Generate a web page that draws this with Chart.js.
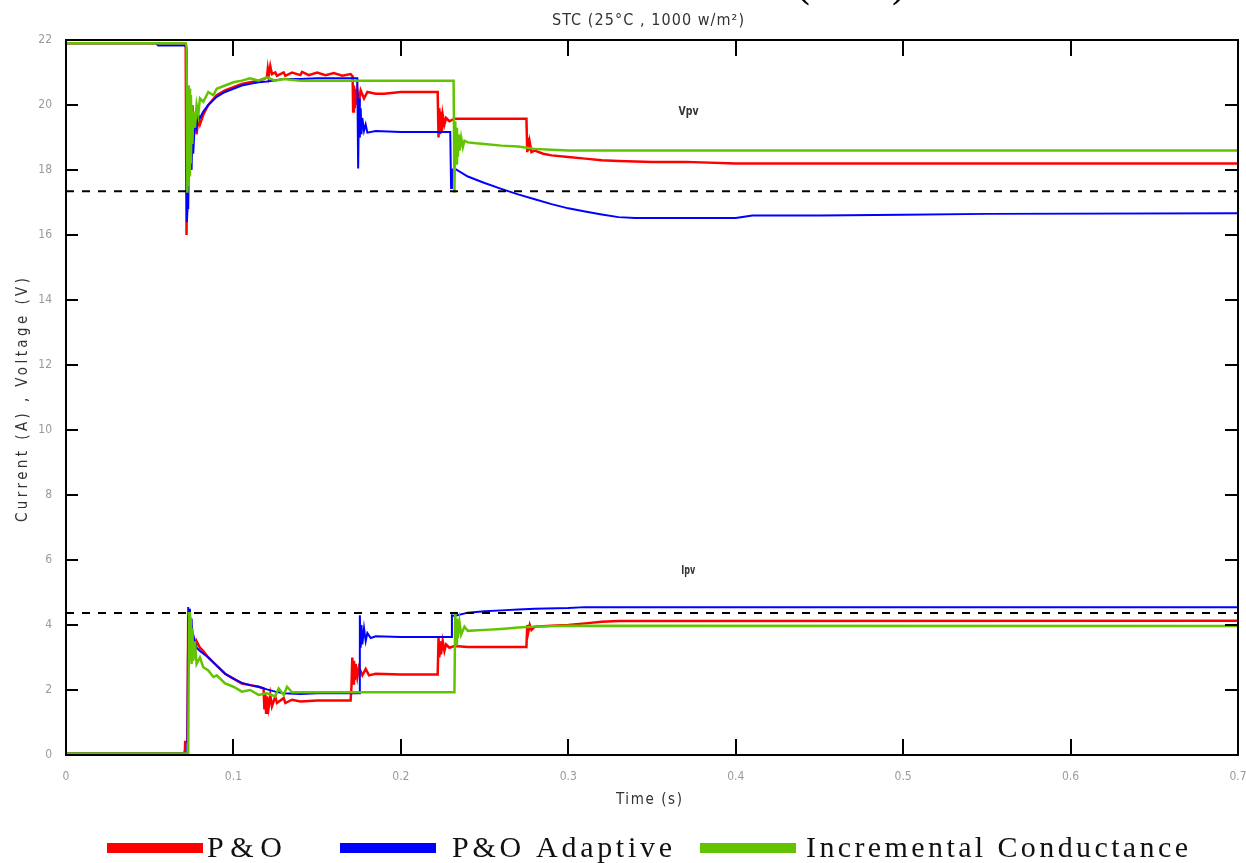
<!DOCTYPE html>
<html>
<head>
<meta charset="utf-8">
<script src="https://cdn.jsdelivr.net/npm/chart.js@4.4.1/dist/chart.umd.min.js"></script>
<style>
html, body { margin: 0; padding: 0; background: #fff; }
</style>
</head>
<body>
<canvas id="pvChart" width="1246" height="863"></canvas>
<script>
// PV current / voltage under STC for three MPPT methods
// each series is a list of [time (s), value]

var methodNames = ["P&O", "P&O Adaptive", "Incremental Conductance"];
var methodColors = ["#ff0000", "#0000ff", "#62c400"];

var xTicks = [0, 0.1, 0.2, 0.3, 0.4, 0.5, 0.6, 0.7];
var yTicks = [0, 2, 4, 6, 8, 10, 12, 14, 16, 18, 20, 22];

// reference levels (dashed)
var vpvRef = [[0, 17.35], [0.7, 17.35]];
var ipvRef = [[0, 4.37], [0.7, 4.37]];

// voltage, P&O
var vpvPO = [[0,21.9],[0.071,21.9],[0.0715,21.75],[0.072,16.0],[0.0725,20.6],[0.073,17.9],[0.0735,20.5],
  [0.074,18.0],[0.0745,20.3],[0.075,18.6],[0.0755,20.0],[0.076,19.0],[0.077,19.7],[0.078,19.1],[0.079,19.6],
  [0.08,19.4],[0.082,19.7],[0.085,20.0],[0.09,20.3],[0.095,20.45],[0.1,20.55],[0.105,20.65],[0.11,20.7],
  [0.115,20.75],[0.118,20.8],[0.12,20.85],[0.1205,21.1],[0.121,20.9],[0.122,21.2],[0.123,20.95],[0.125,21.0],
  [0.126,20.9],[0.13,21.0],[0.131,20.9],[0.135,21.0],[0.14,20.92],[0.141,21.02],[0.145,20.92],[0.15,21.0],
  [0.155,20.92],[0.16,20.98],[0.165,20.9],[0.17,20.95],[0.1712,20.88],[0.1715,19.8],[0.172,20.6],[0.1725,19.9],
  [0.173,20.5],[0.1735,20.0],[0.174,20.45],[0.175,20.1],[0.176,20.45],[0.178,20.2],[0.18,20.4],[0.185,20.35],
  [0.19,20.35],[0.2,20.4],[0.21,20.4],[0.222,20.4],[0.2225,19.0],[0.223,19.9],[0.2235,19.1],[0.224,19.8],
  [0.2245,19.2],[0.225,19.7],[0.226,19.4],[0.227,19.6],[0.229,19.5],[0.232,19.58],[0.24,19.58],[0.25,19.58],
  [0.26,19.58],[0.275,19.58],[0.2755,18.55],[0.276,19.0],[0.2765,18.6],[0.277,18.85],[0.278,18.55],
  [0.28,18.6],[0.285,18.5],[0.29,18.45],[0.3,18.4],[0.31,18.35],[0.32,18.3],[0.33,18.28],[0.35,18.25],
  [0.37,18.25],[0.4,18.2],[0.5,18.2],[0.6,18.2],[0.7,18.2]];

// voltage, P&O adaptive
var vpvPOA = [[0,21.9],[0.054,21.9],[0.055,21.83],[0.0715,21.83],[0.072,21.7],[0.0722,16.4],[0.0728,17.0],
  [0.073,16.8],[0.0735,18.5],[0.074,18.1],[0.0745,18.7],[0.075,18.0],[0.0755,19.0],[0.076,18.5],[0.077,19.5],
  [0.078,19.3],[0.079,19.7],[0.08,19.6],[0.082,19.8],[0.085,20.0],[0.09,20.25],[0.095,20.4],[0.1,20.5],
  [0.105,20.6],[0.11,20.65],[0.115,20.7],[0.12,20.72],[0.13,20.8],[0.14,20.8],[0.15,20.82],[0.16,20.82],
  [0.174,20.82],[0.1745,18.05],[0.175,20.2],[0.1755,19.0],[0.176,19.9],[0.1765,19.1],[0.177,19.6],
  [0.178,19.2],[0.179,19.4],[0.18,19.15],[0.185,19.2],[0.2,19.17],[0.22,19.17],[0.2295,19.17],[0.23,17.45],
  [0.2305,18.0],[0.232,18.05],[0.24,17.8],[0.25,17.6],[0.26,17.42],[0.27,17.25],[0.28,17.1],[0.29,16.95],
  [0.3,16.82],[0.31,16.72],[0.32,16.63],[0.33,16.55],[0.34,16.52],[0.4,16.52],[0.41,16.6],[0.45,16.6],
  [0.5,16.62],[0.55,16.65],[0.7,16.67]];

// voltage, incremental conductance
var vpvIC = [[0,21.9],[0.0715,21.9],[0.072,21.8],[0.0725,17.3],[0.073,20.6],[0.0733,17.5],[0.0736,20.5],
  [0.074,17.8],[0.0743,20.3],[0.0746,18.2],[0.075,20.0],[0.0755,18.8],[0.076,19.8],[0.077,19.3],[0.078,20.0],
  [0.079,19.7],[0.08,20.2],[0.082,20.1],[0.085,20.4],[0.088,20.3],[0.09,20.5],[0.095,20.6],[0.1,20.7],
  [0.105,20.75],[0.11,20.82],[0.115,20.75],[0.12,20.85],[0.125,20.75],[0.13,20.8],[0.14,20.75],[0.15,20.75],
  [0.2,20.75],[0.2315,20.75],[0.232,17.3],[0.2325,19.5],[0.233,18.2],[0.2335,19.3],[0.234,18.4],[0.2345,19.1],
  [0.235,18.6],[0.236,19.0],[0.237,18.7],[0.238,18.9],[0.24,18.85],[0.245,18.82],[0.25,18.8],[0.26,18.75],
  [0.27,18.72],[0.28,18.65],[0.29,18.62],[0.3,18.6],[0.7,18.6]];

// current, P&O
var ipvPO = [[0,0.05],[0.07,0.05],[0.071,0.1],[0.0712,0.4],[0.0725,0.4],[0.073,4.3],[0.0735,3.3],[0.074,4.0],
  [0.0745,3.0],[0.075,3.7],[0.0755,2.9],[0.076,3.6],[0.077,3.2],[0.078,3.5],[0.08,3.3],[0.082,3.2],[0.085,3.0],
  [0.09,2.75],[0.095,2.5],[0.1,2.35],[0.105,2.2],[0.11,2.15],[0.115,2.1],[0.118,2.05],[0.1185,1.4],[0.119,1.9],
  [0.1195,1.3],[0.12,1.8],[0.121,1.45],[0.122,1.85],[0.123,1.5],[0.125,1.8],[0.126,1.6],[0.13,1.75],
  [0.131,1.6],[0.135,1.7],[0.14,1.65],[0.15,1.68],[0.17,1.68],[0.1705,2.1],[0.171,3.0],[0.1715,2.2],
  [0.172,2.9],[0.1725,2.3],[0.173,2.8],[0.174,2.4],[0.175,2.7],[0.177,2.45],[0.179,2.65],[0.181,2.45],
  [0.185,2.5],[0.2,2.48],[0.222,2.48],[0.2225,3.6],[0.223,3.0],[0.2235,3.5],[0.224,3.1],[0.225,3.5],
  [0.226,3.2],[0.227,3.4],[0.229,3.3],[0.232,3.35],[0.24,3.32],[0.26,3.32],[0.275,3.32],[0.2755,4.0],
  [0.276,3.75],[0.277,4.0],[0.278,3.85],[0.28,3.95],[0.29,3.98],[0.3,4.0],[0.31,4.05],[0.32,4.1],
  [0.33,4.12],[0.7,4.13]];

// current, P&O adaptive
var ipvPOA = [[0,0.05],[0.0725,0.05],[0.073,4.55],[0.0735,4.2],[0.074,4.5],[0.0745,3.8],[0.075,4.2],
  [0.0755,3.5],[0.076,3.7],[0.078,3.3],[0.08,3.2],[0.085,3.0],[0.09,2.75],[0.095,2.5],[0.1,2.35],[0.105,2.22],
  [0.11,2.15],[0.115,2.1],[0.12,2.02],[0.125,1.95],[0.13,1.9],[0.14,1.88],[0.15,1.9],[0.175,1.9],[0.1755,4.3],
  [0.176,3.3],[0.1765,4.0],[0.177,3.4],[0.178,3.9],[0.179,3.5],[0.18,3.75],[0.182,3.6],[0.185,3.65],
  [0.2,3.63],[0.23,3.63],[0.2305,4.3],[0.232,4.28],[0.24,4.38],[0.25,4.42],[0.26,4.45],[0.27,4.48],
  [0.28,4.5],[0.3,4.52],[0.31,4.55],[0.7,4.55]];

// current, incremental conductance
var ipvIC = [[0,0.05],[0.073,0.05],[0.0735,4.4],[0.074,2.9],[0.0745,4.2],[0.075,2.8],[0.0755,3.9],
  [0.076,2.9],[0.077,3.5],[0.078,2.8],[0.08,3.0],[0.082,2.7],[0.085,2.6],[0.088,2.4],[0.09,2.45],[0.095,2.2],
  [0.1,2.1],[0.105,1.95],[0.11,2.0],[0.115,1.85],[0.12,1.9],[0.125,1.8],[0.127,2.05],[0.13,1.85],[0.132,2.1],
  [0.135,1.93],[0.15,1.93],[0.2,1.93],[0.232,1.93],[0.2325,4.4],[0.233,3.4],[0.2335,4.2],[0.234,3.6],
  [0.235,4.1],[0.236,3.7],[0.238,3.95],[0.24,3.82],[0.25,3.85],[0.26,3.88],[0.27,3.92],[0.28,3.95],
  [0.3,3.98],[0.7,3.97]];


function toPoints(pairs) {
    return pairs.map(function (p) { return { x: p[0], y: p[1] }; });
}

function traceSet(label, pairs, idx, width) {
    return {
        label: label,
        data: toPoints(pairs),
        borderColor: methodColors[idx],
        backgroundColor: methodColors[idx],
        borderWidth: width,
        pointRadius: 0,
        tension: 0,
        fill: false,
        order: 3 - idx
    };
}

function refSet(pairs) {
    return {
        label: "ref",
        data: toPoints(pairs),
        borderColor: "#000",
        borderWidth: 2,
        borderDash: [8, 8],
        pointRadius: 0,
        fill: false,
        order: 0
    };
}

// spread text out (or squeeze it) so it covers the given width, starting at x
function fitText(ctx, text, x, y, width) {
    ctx.letterSpacing = "0px";
    var w = ctx.measureText(text).width;
    if (w < width && text.length > 1) {
        ctx.letterSpacing = ((width - w) / (text.length - 1)) + "px";
        ctx.fillText(text, x, y);
    } else {
        ctx.fillText(text, x, y, width);
    }
    ctx.letterSpacing = "0px";
}

var scopeDecor = {
    id: "scopeDecor",
    afterDatasetsDraw: function (chart) {
        var ctx = chart.ctx;
        var a = chart.chartArea;
        var xs = chart.scales.x;
        var ys = chart.scales.y;
        ctx.save();

        // frame + inward ticks on all four sides
        ctx.strokeStyle = "#000";
        ctx.lineWidth = 2;
        ctx.strokeRect(a.left, a.top, a.right - a.left, a.bottom - a.top);
        ctx.beginPath();
        xTicks.forEach(function (t) {
            var px = Math.round(xs.getPixelForValue(t));
            ctx.moveTo(px, a.bottom); ctx.lineTo(px, a.bottom - 16);
            ctx.moveTo(px, a.top); ctx.lineTo(px, a.top + 16);
        });
        yTicks.forEach(function (t) {
            var py = Math.round(ys.getPixelForValue(t));
            ctx.moveTo(a.left, py); ctx.lineTo(a.left + 12, py);
            ctx.moveTo(a.right, py); ctx.lineTo(a.right - 13, py);
        });
        ctx.stroke();

        // trace names
        ctx.fillStyle = "#333";
        ctx.font = "bold 12px 'Liberation Sans Narrow', 'DejaVu Sans Condensed', sans-serif";
        ctx.textBaseline = "middle";
        fitText(ctx, "Vpv", xs.getPixelForValue(0.37) - 7, ys.getPixelForValue(19.8), 20);
        fitText(ctx, "Ipv", xs.getPixelForValue(0.371) - 6, ys.getPixelForValue(5.67), 14);

        // title and the clipped caption above it
        ctx.fillStyle = "#333";
        ctx.font = "16px 'Liberation Sans Narrow', 'DejaVu Sans Condensed', sans-serif";
        fitText(ctx, "STC (25°C , 1000 w/m²)", 552, 21, 192);
        ctx.fillStyle = "#000";
        ctx.font = "48px 'Liberation Serif', serif";
        ctx.textBaseline = "alphabetic";
        fitText(ctx, "(STC)", 795, -5, 112);

        // axis titles
        ctx.fillStyle = "#333";
        ctx.font = "15px 'Liberation Sans Narrow', 'DejaVu Sans Condensed', sans-serif";
        ctx.textBaseline = "middle";
        fitText(ctx, "Time (s)", 616, 800, 66);
        ctx.save();
        ctx.translate(23, 400);
        ctx.rotate(-Math.PI / 2);
        fitText(ctx, "Current (A) , Voltage (V)", -122, 0, 244);
        ctx.restore();

        // legend, one entry per method
        var boxes = [[107, 207, 75], [340, 452, 220], [700, 806, 382]];
        ctx.font = "30px 'Liberation Serif', 'Times New Roman', serif";
        ctx.textBaseline = "alphabetic";
        methodNames.forEach(function (name, i) {
            var b = boxes[i];
            ctx.fillStyle = methodColors[i];
            ctx.fillRect(b[0], 843, 96, 10);
            ctx.fillStyle = "#111";
            fitText(ctx, name, b[1], 857, b[2]);
        });
        ctx.restore();
    }
};

var tickFont = { family: "'Liberation Sans Narrow', 'DejaVu Sans Condensed', sans-serif", size: 12 };

var pvChart = new Chart(document.getElementById("pvChart"), {
    type: "line",
    data: {
        datasets: [
            traceSet(methodNames[0], vpvPO, 0, 2.5),
            traceSet(methodNames[1], vpvPOA, 1, 2),
            traceSet(methodNames[2], vpvIC, 2, 2.5),
            traceSet(methodNames[0], ipvPO, 0, 2.5),
            traceSet(methodNames[1], ipvPOA, 1, 2),
            traceSet(methodNames[2], ipvIC, 2, 2.5),
            refSet(vpvRef),
            refSet(ipvRef)
        ]
    },
    options: {
        responsive: false,
        animation: false,
        events: [],
        layout: { padding: { top: 40, right: 0, left: 0, bottom: 0 } },
        plugins: {
            legend: { display: false },
            tooltip: { enabled: false },
            title: { display: false }
        },
        scales: {
            x: {
                type: "linear",
                min: 0,
                max: 0.7,
                afterFit: function (scale) { scale.height = 108; scale.paddingRight = 8; },
                afterBuildTicks: function (scale) {
                    scale.ticks = xTicks.map(function (v) { return { value: v }; });
                },
                grid: { display: false },
                border: { display: false },
                ticks: {
                    padding: 7,
                    color: "#9a9a9a",
                    font: tickFont,
                    maxRotation: 0,
                    autoSkip: false,
                    callback: function (v) { return String(+v.toFixed(1)); }
                }
            },
            y: {
                min: 0,
                max: 22,
                afterFit: function (scale) { scale.width = 66; },
                afterBuildTicks: function (scale) {
                    scale.ticks = yTicks.map(function (v) { return { value: v }; });
                },
                grid: { display: false },
                border: { display: false },
                ticks: {
                    padding: 6,
                    color: "#9a9a9a",
                    font: tickFont,
                    autoSkip: false
                }
            }
        }
    },
    plugins: [scopeDecor]
});
</script>
</body>
</html>
